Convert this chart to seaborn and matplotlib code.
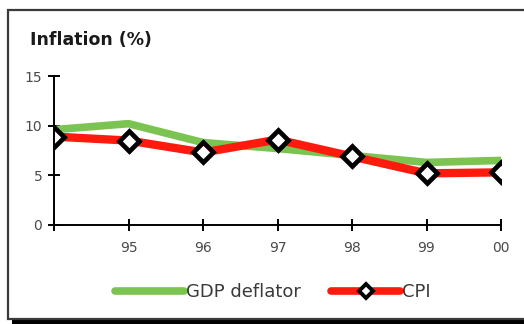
import matplotlib
matplotlib.use("Agg")
import matplotlib.pyplot as plt
from matplotlib.patches import Rectangle
import seaborn as sns
import pandas as pd

years = ["94", "95", "96", "97", "98", "99", "00"]
gdp_deflator = [9.6, 10.2, 8.3, 7.7, 7.0, 6.3, 6.5]
cpi = [8.9, 8.5, 7.3, 8.6, 6.9, 5.2, 5.3]
y_ticks = [0, 5, 10, 15]

df = pd.DataFrame({
    "pos": list(range(len(years))) * 2,
    "value": gdp_deflator + cpi,
    "series": ["GDP deflator"] * len(years) + ["CPI"] * len(years),
})

sns.set_style("white")
plt.rcParams["font.family"] = ["DejaVu Sans"]

W, H = 524, 324
fig = plt.figure(figsize=(W / 100, H / 100), dpi=100)

# outer frame with a dark drop shadow along the bottom
fig.patches.append(Rectangle((12 / W, 0), 1, 5 / H, transform=fig.transFigure,
                             facecolor="black", edgecolor="none", zorder=-3))
fig.patches.append(Rectangle((8 / W, 5 / H), 1, 309 / H, transform=fig.transFigure,
                             facecolor="white", edgecolor="#3a3a3a", lw=1.6, zorder=-2))

ax = fig.add_axes([54 / W, (H - 225) / H, (501 - 54) / W, (225 - 76) / H])
ax.set_facecolor("none")
ax.set_zorder(2)

green = "#7cc452"
red = "#ff1a0e"

sns.lineplot(data=df[df.series == "GDP deflator"], x="pos", y="value", ax=ax,
             color=green, lw=5.5, label="GDP deflator")
sns.lineplot(data=df[df.series == "CPI"], x="pos", y="value", ax=ax,
             color=red, lw=6, marker="D", markersize=10.5, markerfacecolor="white",
             markeredgecolor="black", markeredgewidth=3.4, label="CPI")

ax.set_xlim(0, len(years) - 1)
ax.set_ylim(0, 15)
ax.set_yticks(y_ticks)
ax.set_yticklabels([str(v) for v in y_ticks])
ax.set_xticks(range(len(years)))
ax.set_xticklabels([""] + years[1:])
ax.set_xlabel("")
ax.set_ylabel("")

for s in ["top", "right"]:
    ax.spines[s].set_visible(False)
for s in ["left", "bottom"]:
    ax.spines[s].set_color("black")
    ax.spines[s].set_linewidth(1.4)
    ax.spines[s].set_visible(True)

ax.tick_params(axis="both", bottom=True, left=True, direction="inout", length=9,
               width=1.4, color="black", labelsize=10, labelcolor="#4a4a4a")
ax.tick_params(axis="x", pad=7)
ax.tick_params(axis="y", pad=4)

fig.text(30 / W, (H - 40) / H, "Inflation (%)", fontsize=12.5, fontweight="bold",
         color="#1a1a1a", va="center", ha="left")

leg = ax.legend(loc="center", bbox_to_anchor=(273 / W, (H - 292) / H),
                bbox_transform=fig.transFigure, ncol=2, frameon=False,
                fontsize=13, handlelength=3.8, handletextpad=0.12,
                columnspacing=1.7, labelcolor="#3a3a3a")
for line in leg.get_lines():
    line.set_linewidth(5.5)
leg.get_lines()[1].set_markersize(7)
leg.get_lines()[1].set_markeredgewidth(2.8)

fig.savefig("out.png", dpi=100)
